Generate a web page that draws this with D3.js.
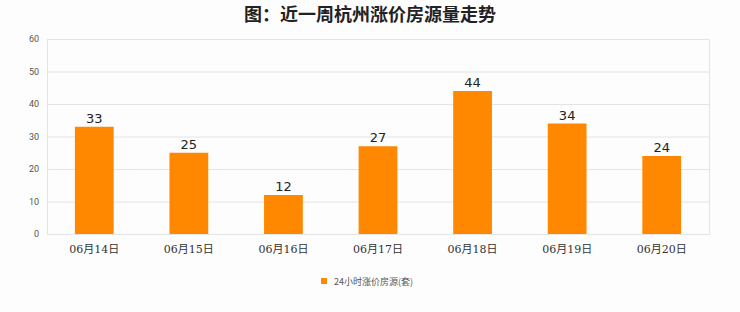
<!DOCTYPE html>
<html>
<head>
<meta charset="utf-8">
<script src="https://cdn.jsdelivr.net/npm/d3@7"></script>
<style>
  html, body { margin: 0; padding: 0; background: #fdfdfd; }
  #chart { width: 740px; height: 312px; }
</style>
</head>
<body>
<div id="chart"></div>
<script>
// data
const categories = ['06月14日', '06月15日', '06月16日', '06月17日', '06月18日', '06月19日', '06月20日'];
const values = [33, 25, 12, 27, 44, 34, 24];
const yTicks = [0, 10, 20, 30, 40, 50, 60];
const seriesName = '24小时涨价房源(套)';
const titleText = '图：近一周杭州涨价房源量走势';

const W = 740, H = 312;
const margin = {top: 39, right: 31, bottom: 78, left: 47};
const barColor = '#ff8800';
const gridColor = '#e4e4e4';

const svg = d3.select('#chart').append('svg')
  .attr('width', W).attr('height', H);

svg.append('rect').attr('width', W).attr('height', H).attr('fill', '#fdfdfd');

// title
svg.append('text')
  .attr('x', 370).attr('y', 21)
  .attr('text-anchor', 'middle')
  .attr('font-family', '"Noto Sans CJK SC", sans-serif')
  .attr('font-weight', 'bold')
  .attr('font-size', 18)
  .attr('fill', '#222')
  .text(titleText);

let xScale = d3.scaleBand()
  .domain(categories)
  .range([margin.left, W - margin.right])
  .paddingInner(0.59).paddingOuter(0.295);
let yScale = d3.scaleLinear()
  .domain([0, 60])
  .range([H - margin.bottom, margin.top]);

// grid + y axis
let yAxis = g => g.attr('transform', `translate(${margin.left}, 0)`)
  .call(d3.axisLeft(yScale).tickValues(yTicks).tickSize(0).tickPadding(8))
  .call(g => g.select('.domain').remove())
  .call(g => g.selectAll('.tick line').clone()
    .attr('x2', W - margin.right - margin.left)
    .attr('stroke', gridColor))
  .call(g => g.selectAll('.tick text')
    .attr('fill', '#555')
    .attr('font-size', 9)
    .attr('font-family', 'Roboto, sans-serif'));
svg.append('g').call(yAxis);

// plot frame
svg.append('rect')
  .attr('x', margin.left + 0.5).attr('y', margin.top + 0.5)
  .attr('width', W - margin.right - margin.left)
  .attr('height', H - margin.bottom - margin.top)
  .attr('fill', 'none')
  .attr('stroke', gridColor);

// x axis
let xAxis = g => g.attr('transform', `translate(0, ${H - margin.bottom})`)
  .call(d3.axisBottom(xScale).tickSize(0).tickPadding(11))
  .call(g => g.select('.domain').remove())
  .call(g => g.selectAll('.tick text')
    .attr('fill', '#333')
    .attr('font-size', 11)
    .attr('font-family', '"DejaVu Serif", "Noto Sans CJK SC", serif'));
svg.append('g').call(xAxis);

// bars
svg.append('g').selectAll('rect')
  .data(values)
  .enter().append('rect')
  .attr('x', (d, i) => xScale(categories[i]))
  .attr('y', d => yScale(d))
  .attr('width', xScale.bandwidth())
  .attr('height', d => yScale(0) - yScale(d))
  .attr('fill', barColor);

// value labels
svg.append('g').selectAll('text')
  .data(values)
  .enter().append('text')
  .attr('x', (d, i) => xScale(categories[i]) + xScale.bandwidth() / 2)
  .attr('y', d => yScale(d) - 4)
  .attr('text-anchor', 'middle')
  .attr('font-family', 'DejaVu Sans, sans-serif')
  .attr('font-size', 13)
  .attr('fill', '#222')
  .text(d => d);

// legend
let legend = svg.append('g').attr('transform', 'translate(321, 278)');
legend.append('rect').attr('width', 6).attr('height', 6).attr('fill', barColor);
legend.append('text')
  .attr('x', 13).attr('y', 6.5)
  .attr('font-family', '"Noto Sans CJK SC", sans-serif')
  .attr('font-size', 9)
  .attr('fill', '#555')
  .text(seriesName);
</script>
</body>
</html>
